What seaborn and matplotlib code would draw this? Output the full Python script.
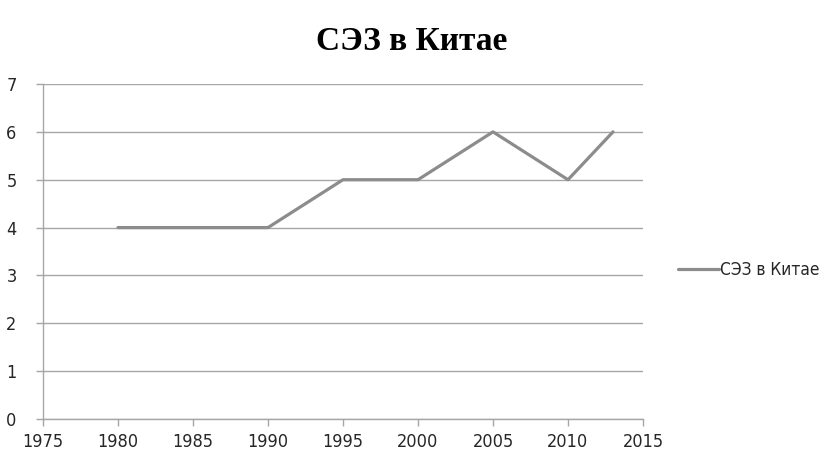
import matplotlib
matplotlib.use("Agg")
import matplotlib.pyplot as plt
import seaborn as sns
import pandas as pd

years = [1980, 1990, 1995, 2000, 2005, 2010, 2013]
values = [4, 4, 5, 5, 6, 5, 6]
series_name = "СЭЗ в Китае"
title = "СЭЗ в Китае"
x_ticks = [1975, 1980, 1985, 1990, 1995, 2000, 2005, 2010, 2015]
y_ticks = [0, 1, 2, 3, 4, 5, 6, 7]

sns.set_theme(style="white")
plt.rcParams['font.family'] = ['DejaVu Sans']
plt.rcParams['font.stretch'] = 'condensed'

df = pd.DataFrame({"year": years, "value": values, "series": series_name})

fig = plt.figure(figsize=(8.24, 4.57), dpi=100)
ax = fig.add_axes([43 / 824, 1 - 419 / 457, 600 / 824, 335 / 457])

line_col = "#8c8c8c"
grid_col = "#a6a6a6"
sns.lineplot(data=df, x="year", y="value", hue="series", palette=[line_col],
             linewidth=2.3, ax=ax, legend=True)

ax.set_xlim(1975, 2015)
ax.set_ylim(0, 7)
ax.set_xticks(x_ticks)
ax.set_yticks(y_ticks)
ax.set_xlabel("")
ax.set_ylabel("")
ax.yaxis.grid(True, color=grid_col, linewidth=1.0)
ax.set_axisbelow(True)
for s in ["top", "right"]:
    ax.spines[s].set_visible(False)
for s in ["left", "bottom"]:
    ax.spines[s].set_color(grid_col)
    ax.spines[s].set_linewidth(1.0)
ax.tick_params(axis="both", which="both", direction="out", length=5, width=1.0,
               color=grid_col, labelcolor="#262626", labelsize=13, pad=5,
               bottom=True, left=True)
ax.tick_params(axis="y", pad=14)
for lab in ax.get_xticklabels() + ax.get_yticklabels():
    lab.set_fontstretch("condensed")

fig.text(0.5, 0.91, title, ha="center", va="center", fontsize=24,
         fontweight="bold", family="Liberation Serif", fontstretch="normal",
         color="black")

leg = ax.legend(loc="center left", bbox_to_anchor=(1.058, 0.445), frameon=False,
                fontsize=12.4, handlelength=2.4, handletextpad=0.05,
                borderaxespad=0, borderpad=0)
for t in leg.get_texts():
    t.set_color("#262626")
    t.set_fontstretch("condensed")

fig.savefig("out.png", dpi=100)
